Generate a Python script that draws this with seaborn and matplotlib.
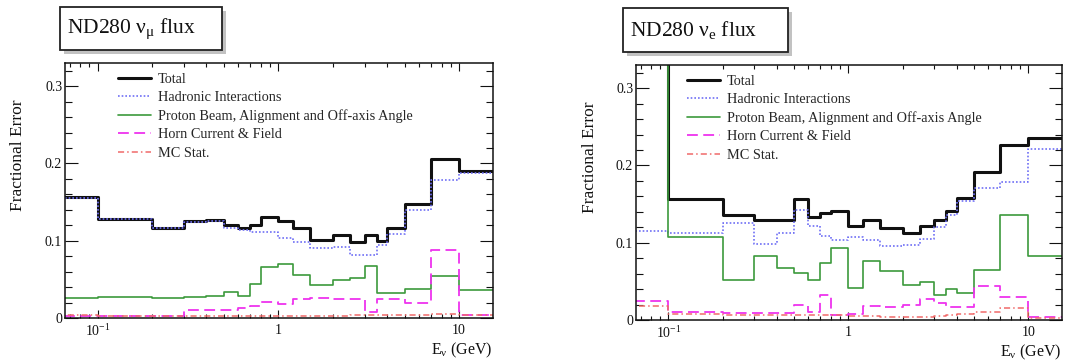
import numpy as np
import matplotlib
matplotlib.use('Agg')
import matplotlib.pyplot as plt
import seaborn as sns
from matplotlib.patches import Rectangle
from matplotlib.ticker import FixedLocator, FixedFormatter, LogLocator, MultipleLocator, NullFormatter

# ---------------- data ----------------
bin_edges = [0.0, 0.1, 0.2, 0.3, 0.4, 0.5, 0.6, 0.7, 0.8, 1.0, 1.2, 1.5,
             2.0, 2.5, 3.0, 3.5, 4.0, 5.0, 7.0, 10.0, 30.0]

series_names = ["Total", "Hadronic Interactions",
                "Proton Beam, Alignment and Off-axis Angle",
                "Horn Current & Field", "MC Stat."]

numu_total = [0.156, 0.128, 0.116, 0.125, 0.127, 0.120, 0.117, 0.120, 0.131, 0.126,
              0.117, 0.101, 0.107, 0.098, 0.108, 0.100, 0.116, 0.147, 0.206, 0.190]
numu_hadron = [0.155, 0.128, 0.116, 0.124, 0.126, 0.117, 0.114, 0.111, 0.111, 0.103,
               0.099, 0.090, 0.092, 0.081, 0.082, 0.094, 0.109, 0.140, 0.178, 0.188]
numu_beam = [0.026, 0.027, 0.026, 0.027, 0.029, 0.034, 0.029, 0.044, 0.066, 0.070,
             0.056, 0.043, 0.049, 0.052, 0.067, 0.032, 0.033, 0.037, 0.055, 0.036]
numu_horn = [0.003, 0.003, 0.003, 0.011, 0.010, 0.011, 0.013, 0.016, 0.021, 0.018,
             0.024, 0.026, 0.025, 0.025, 0.008, 0.024, 0.025, 0.019, 0.088, 0.004]
numu_mcstat = [0.004, 0.003, 0.003, 0.003, 0.003, 0.003, 0.003, 0.003, 0.003, 0.003,
               0.003, 0.003, 0.003, 0.004, 0.004, 0.004, 0.004, 0.004, 0.005, 0.004]

nue_total = [0.470, 0.156, 0.136, 0.130, 0.130, 0.156, 0.133, 0.139, 0.141, 0.122,
             0.129, 0.119, 0.112, 0.122, 0.129, 0.141, 0.158, 0.192, 0.227, 0.235]
nue_hadron = [0.115, 0.113, 0.126, 0.099, 0.112, 0.143, 0.122, 0.109, 0.104, 0.108,
              0.103, 0.096, 0.097, 0.105, 0.120, 0.136, 0.154, 0.171, 0.178, 0.221]
nue_beam = [0.450, 0.108, 0.052, 0.083, 0.067, 0.061, 0.052, 0.074, 0.093, 0.041,
            0.077, 0.064, 0.045, 0.049, 0.033, 0.040, 0.035, 0.065, 0.136, 0.083]
nue_horn = [0.024, 0.010, 0.009, 0.009, 0.009, 0.020, 0.010, 0.033, 0.007, 0.008,
            0.018, 0.017, 0.020, 0.027, 0.022, 0.017, 0.017, 0.044, 0.030, 0.004]
nue_mcstat = [0.018, 0.008, 0.006, 0.006, 0.006, 0.006, 0.007, 0.007, 0.006, 0.005,
              0.005, 0.004, 0.004, 0.004, 0.005, 0.006, 0.008, 0.010, 0.016, 0.003]

panel_titles = [r"ND280 $\nu_{\mu}$ flux", r"ND280 $\nu_{e}$ flux"]
x_tick_values = [0.1, 1.0, 10.0]
x_tick_labels = [r"$10^{-1}$", "1", "10"]
y_tick_values = [0.0, 0.1, 0.2, 0.3]
y_tick_labels = ["0", "0.1", "0.2", "0.3"]
y_label = "Fractional Error"
x_label = r"E$_{\nu}$ (GeV)"

# ---------------- style ----------------
sns.set_theme(style="white")
plt.rcParams['font.family'] = ['Liberation Serif', 'DejaVu Serif']
plt.rcParams['mathtext.fontset'] = 'custom'
plt.rcParams['mathtext.rm'] = 'Liberation Serif'
plt.rcParams['mathtext.it'] = 'Liberation Serif'
plt.rcParams['mathtext.bf'] = 'Liberation Serif:bold'

styles = [
    dict(color="#111111", lw=2.2, ls="-"),
    dict(color="#6f6ff5", lw=1.2, ls=(0, (1, 1.2))),
    dict(color="#3c9a3c", lw=1.2, ls="-"),
    dict(color="#ee33ee", lw=1.3, ls=(0, (6, 3))),
    dict(color="#f06a6a", lw=1.1, ls=(0, (4, 2, 1, 2))),
]

W, H = 1070, 362
fig = plt.figure(figsize=(W / 100, H / 100), dpi=100)


def fx(px):
    return px / W


def fy(py):
    return 1 - py / H


panels = [
    dict(axes=(65, 63, 493, 318), box=(60, 7, 222, 50),
         data=[numu_total, numu_hadron, numu_beam, numu_horn, numu_mcstat],
         leg=(0.124, 0.96)),
    dict(axes=(636, 65, 1062, 320), box=(623, 8, 788, 52),
         data=[nue_total, nue_hadron, nue_beam, nue_horn, nue_mcstat],
         leg=(0.12, 0.96)),
]

edges = np.array(bin_edges)
plot_edges = np.where(edges > 0, edges, 1e-3)

for p, title in zip(panels, panel_titles):
    l, t, r, b = p["axes"]
    ax = fig.add_axes([fx(l), fy(b), (r - l) / W, (b - t) / H])
    ax.set_xscale("log")
    for name, vals, st in zip(series_names, p["data"], styles):
        ys = np.append(np.array(vals), vals[-1])
        sns.lineplot(x=plot_edges, y=ys, ax=ax, color=st["color"], lw=st["lw"],
                     linestyle=st["ls"], drawstyle="steps-post", estimator=None,
                     sort=False, label=name, legend=False)
    handles = ax.get_lines()[:len(series_names)]
    ax.set_xlim(0.066, 15.4)
    ax.set_ylim(0, 0.33)

    ax.xaxis.set_major_locator(FixedLocator(x_tick_values))
    ax.xaxis.set_major_formatter(FixedFormatter(x_tick_labels))
    ax.xaxis.set_minor_locator(LogLocator(base=10, subs=np.arange(2, 10)))
    ax.xaxis.set_minor_formatter(NullFormatter())
    ax.yaxis.set_major_locator(FixedLocator(y_tick_values))
    ax.yaxis.set_major_formatter(FixedFormatter(y_tick_labels))
    ax.yaxis.set_minor_locator(MultipleLocator(0.02))

    ax.tick_params(axis="both", which="both", direction="in", top=True, right=True,
                   bottom=True, left=True, colors="#111111", labelsize=10, width=0.8)
    ax.tick_params(axis="y", which="major", length=9.4, pad=2)
    ax.tick_params(axis="y", which="minor", length=4.7)
    ax.tick_params(axis="x", which="major", length=5.5, pad=4)
    ax.tick_params(axis="x", which="minor", length=2.8)
    for sp in ax.spines.values():
        sp.set_color("#111111")
        sp.set_linewidth(1.1)

    ax.set_ylabel(y_label, fontsize=12.5, color="#111111")
    ax.yaxis.set_label_coords(-0.09, 0.64)
    ax.set_xlabel(x_label, fontsize=11.5, color="#111111", loc="right")
    ax.xaxis.set_label_coords(1.0, -0.088)
    ax.xaxis.label.set_verticalalignment("top")

    ax.legend(handles, series_names, loc="upper left", bbox_to_anchor=p["leg"],
              frameon=False, fontsize=10.3, handlelength=2.3, handletextpad=0.5,
              labelspacing=0.36, borderpad=0, borderaxespad=0)

    # title box with shadow
    x0, y0, x1, y1 = p["box"]
    fig.patches.append(Rectangle((fx(x0 + 4), fy(y1 + 4)), (x1 - x0) / W, (y1 - y0) / H,
                                 transform=fig.transFigure, facecolor="#9a9a9a",
                                 edgecolor="none", alpha=0.6, zorder=1))
    fig.patches.append(Rectangle((fx(x0), fy(y1)), (x1 - x0) / W, (y1 - y0) / H,
                                 transform=fig.transFigure, facecolor="white",
                                 edgecolor="#222222", lw=1.3, zorder=2))
    fig.text(fx(x0 + 7), fy((y0 + y1) / 2), title, ha="left", va="center",
             fontsize=15.5, color="#111111", zorder=3)

fig.savefig("out.png", dpi=100)
